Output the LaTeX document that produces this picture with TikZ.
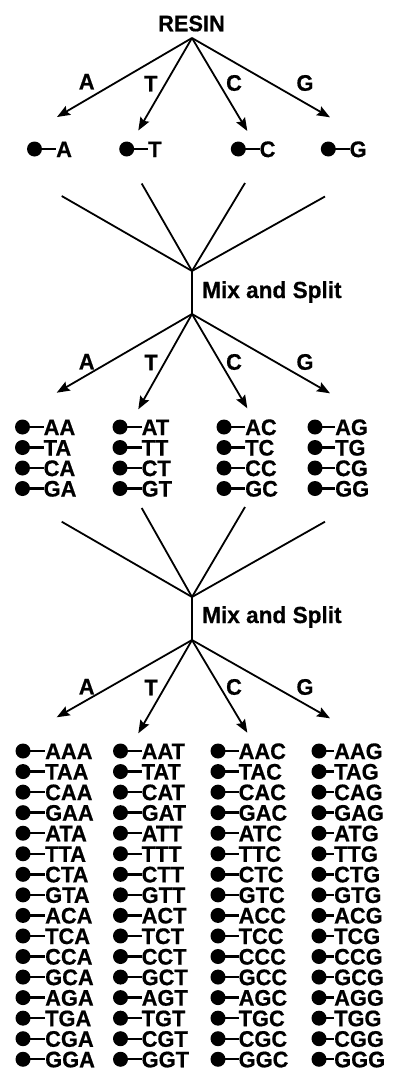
\documentclass[tikz,border=0pt]{standalone}
\usepackage{fontspec}
\setmainfont{Liberation Sans}[FakeStretch=0.97,BoldFeatures={FakeBold=0.6,FakeStretch=0.97}]
\usetikzlibrary{arrows.meta}
\tikzset{
  dotn/.style={circle,fill=black,inner sep=0pt,minimum size=15pt},
  seqtxt/.style={inner sep=0pt,anchor=west,font=\bfseries\fontsize{22.5}{22.5}\selectfont,text height=16.1pt,text depth=0pt},
  stub/.style={line width=2.4pt},
  arr/.style={line width=1.8pt,-{Stealth[length=13pt,width=10pt,inset=2pt]}},
  mixl/.style={line width=1.8pt},
  lbl/.style={font=\bfseries\fontsize{22.5}{22.5}\selectfont,inner sep=0pt},
}
% name, dot x, y, text x, text
\newcommand\seqitem[5]{%
  \node[dotn] (#1d) at (#2,#3) {};
  \node[seqtxt] (#1t) at (#4,#3) {#5};
  \draw[stub] (#1d.center) -- (#1t.west);
}
\begin{document}
\begin{tikzpicture}[x=1pt,y=-1pt]
\useasboundingbox (0,0) rectangle (396,1072);

% ---------- top: RESIN ----------
\node[lbl] (resin) at (191.5,23.5) {RESIN};
\coordinate (src1) at (192,38);
\coordinate (tA1) at (57,117);
\coordinate (tT1) at (138.3,130.5);
\coordinate (tC1) at (247.3,131);
\coordinate (tG1) at (330,117.3);
\foreach \t in {tA1,tT1,tC1,tG1} \draw[arr] (src1) -- (\t);
\node[lbl] (lA1) at (86.7,81.7) {A};
\node[lbl] (lT1) at (150.8,83.7) {T};
\node[lbl] (lC1) at (234,83) {C};
\node[lbl] (lG1) at (305,83) {G};

\seqitem{oA}{34.5}{149}{56}{A}
\seqitem{oT}{126.7}{149}{148}{T}
\seqitem{oC}{238.3}{149}{259.5}{C}
\seqitem{oG}{328.3}{149}{349.5}{G}

% ---------- mix 1 ----------
\coordinate (m1) at (192,271);
\coordinate (m1a) at (61.7,196);
\coordinate (m1t) at (141.7,183.5);
\coordinate (m1c) at (245,183);
\coordinate (m1g) at (325,196.5);
\foreach \p in {m1a,m1t,m1c,m1g} \draw[mixl] (\p) -- (m1);
\coordinate (src2) at (192,314);
\draw[mixl] (m1) -- (src2);
\node[lbl,anchor=west,font=\bfseries\fontsize{23.3}{23.3}\selectfont] (mix1) at (202,292) {Mix and Split};

\coordinate (tA2) at (56.7,392.7);
\coordinate (tT2) at (138.3,409.3);
\coordinate (tC2) at (247.3,408.3);
\coordinate (tG2) at (330,393.3);
\foreach \t in {tA2,tT2,tC2,tG2} \draw[arr] (src2) -- (\t);
\node[lbl] (lA2) at (86.7,361.7) {A};
\node[lbl] (lT2) at (151,362.5) {T};
\node[lbl] (lC2) at (234,362) {C};
\node[lbl] (lG2) at (305,362) {G};

\foreach \c/\dx/\tx in {A/22.5/43.5, T/120/141.5, C/224/245, G/315/335} {
  \foreach \f [count=\k from 0] in {A,T,C,G} {
    \pgfmathsetmacro\yy{427+20.5*\k}
    \seqitem{d\f\c}{\dx}{\yy}{\tx}{\f\c}
  }
}

% ---------- mix 2 ----------
\coordinate (m2) at (192,597);
\coordinate (m2a) at (61.7,521.7);
\coordinate (m2t) at (141.7,508);
\coordinate (m2c) at (245,507);
\coordinate (m2g) at (325,521.7);
\foreach \p in {m2a,m2t,m2c,m2g} \draw[mixl] (\p) -- (m2);
\coordinate (src3) at (192,640);
\draw[mixl] (m2) -- (src3);
\node[lbl,anchor=west,font=\bfseries\fontsize{23.3}{23.3}\selectfont] (mix2) at (202,617) {Mix and Split};

\coordinate (tA3) at (56.7,717.3);
\coordinate (tT3) at (138.3,733.3);
\coordinate (tC3) at (247.3,732.7);
\coordinate (tG3) at (330,718.3);
\foreach \t in {tA3,tT3,tC3,tG3} \draw[arr] (src3) -- (\t);
\node[lbl] (lA3) at (86.7,686.7) {A};
\node[lbl] (lT3) at (151,687.5) {T};
\node[lbl] (lC3) at (234,687) {C};
\node[lbl] (lG3) at (305,687) {G};

\foreach \c/\dx/\tx in {A/23/45, T/120.5/141.5, C/218/238.5, G/319/334} {
  \foreach \m [count=\j from 0] in {A,T,C,G} {
    \foreach \f [count=\k from 0] in {A,T,C,G} {
      \pgfmathsetmacro\yy{751+20.55*(4*\j+\k)}
      \seqitem{t\f\m\c}{\dx}{\yy}{\tx}{\f\m\c}
    }
  }
}
\end{tikzpicture}
\end{document}
